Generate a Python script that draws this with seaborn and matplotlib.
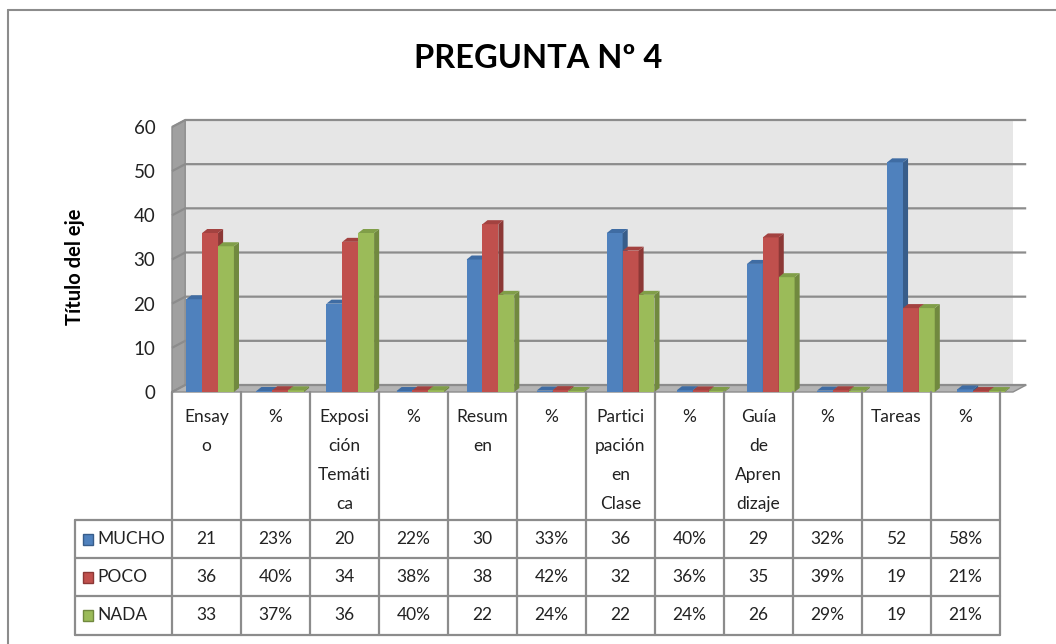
import numpy as np
import pandas as pd
import matplotlib
matplotlib.use('Agg')
import matplotlib.pyplot as plt
import seaborn as sns
from matplotlib.patches import Polygon, Rectangle
from matplotlib.lines import Line2D

# data
categories = ["Ensayo", "%", "Exposición Temática", "%", "Resumen", "%",
              "Participación en Clase", "%", "Guía de Aprendizaje", "%", "Tareas", "%"]
header_labels = ["Ensay\no", "%", "Exposi\nción\nTemáti\nca", "%", "Resum\nen", "%",
                 "Partici\npación\nen\nClase", "%", "Guía\nde\nApren\ndizaje", "%", "Tareas", "%"]
series = ["MUCHO", "POCO", "NADA"]
mucho = [21, 0.23, 20, 0.22, 30, 0.33, 36, 0.40, 29, 0.32, 52, 0.58]
poco = [36, 0.40, 34, 0.38, 38, 0.42, 32, 0.36, 35, 0.39, 19, 0.21]
nada = [33, 0.37, 36, 0.40, 22, 0.24, 22, 0.24, 26, 0.29, 19, 0.21]
yticks = [0, 10, 20, 30, 40, 50, 60]

front_colors = ["#4F81BD", "#C0504D", "#9BBB59"]
side_colors = ["#385D8A", "#8C3836", "#71893F"]
top_colors = ["#3F6CA3", "#A34240", "#809E48"]

sns.set_style("white")
plt.rcParams['font.family'] = ['Lato', 'DejaVu Sans']

W, H = 1056, 644
fig = plt.figure(figsize=(W / 100, H / 100), dpi=100)

def box(x0, y0, x1, y1):
    return [x0 / W, 1 - y1 / H, (x1 - x0) / W, (y1 - y0) / H]

df = pd.DataFrame({
    "col": np.tile(np.arange(len(categories)), 3),
    "serie": np.repeat(series, len(categories)),
    "valor": mucho + poco + nada,
})

ax = fig.add_axes(box(172, 120, 1013, 392))
n = len(categories)
px_x = 69.0
dx = 13 / px_x
px_y = 272 / (60 + 7 / 4.42)
dy = 7 / px_y
ax.set_xlim(-0.5, n - 0.5 + dx)
ax.set_ylim(0, 60 + dy)

# 3D-looking walls
ax.add_patch(Polygon([(-0.5 + dx, dy), (n - 0.5 + dx, dy), (n - 0.5 + dx, 60 + dy), (-0.5 + dx, 60 + dy)],
                     closed=True, fc="#E6E6E6", ec="none", zorder=0))
ax.add_patch(Polygon([(-0.5, 0), (-0.5, 60), (-0.5 + dx, 60 + dy), (-0.5 + dx, dy)],
                     closed=True, fc="#A0A0A0", ec="#8C8C8C", lw=1, zorder=0.5, clip_on=False))
ax.add_patch(Polygon([(-0.5, 0), (n - 0.5, 0), (n - 0.5 + dx, dy), (-0.5 + dx, dy)],
                     closed=True, fc="#B4B4B4", ec="#8C8C8C", lw=1, zorder=0.5, clip_on=False))
for v in yticks:
    ax.plot([-0.5, -0.5 + dx, n - 0.5 + dx], [v, v + dy, v + dy], color="#8C8C8C", lw=1.6,
            zorder=1, clip_on=False, solid_capstyle="butt")

sns.barplot(data=df, x="col", y="valor", hue="serie", hue_order=series,
            palette=front_colors, width=0.68, dodge=True, saturation=1,
            legend=False, ax=ax)

bdx = 5 / px_x
bdy = 4 / px_y
shift = 3 / px_x
for k, cont in enumerate(ax.containers):
    for bar in cont:
        bar.set_x(bar.get_x() + shift)
        x0, w, h = bar.get_x(), bar.get_width(), bar.get_height()
        bar.set_edgecolor("none")
        bar.set_zorder(3 + k)
        ax.add_patch(Polygon([(x0 + w, 0), (x0 + w, h), (x0 + w + bdx, h + bdy), (x0 + w + bdx, bdy)],
                             closed=True, fc=side_colors[k], ec="none", zorder=3 + k))
        ax.add_patch(Polygon([(x0, h), (x0 + w, h), (x0 + w + bdx, h + bdy), (x0 + bdx, h + bdy)],
                             closed=True, fc=top_colors[k], ec="none", zorder=3 + k))

ax.set_xticks([])
ax.set_yticks(yticks)
ax.set_yticklabels([str(v) for v in yticks], fontsize=13.5, color="#222222")
ax.tick_params(axis="y", length=0, pad=12)
ax.set_xlabel("")
ax.set_ylabel("")
for s in ax.spines.values():
    s.set_visible(False)
ax.patch.set_alpha(0)

# data table below the plot
tab = fig.add_axes(box(75, 392, 1000, 635))
left = -0.5 - (172 - 75) / px_x
tab.set_xlim(left, n - 0.5)
tab.set_ylim(243, 0)
tab.axis("off")
lc = "#8C8C8C"
rows_y = [128, 166, 204, 243]
for j in range(n + 1):
    tab.plot([j - 0.5, j - 0.5], [0, 243], color=lc, lw=1.6, clip_on=False)
tab.plot([left, left], [128, 243], color=lc, lw=1.6, clip_on=False)
for yy in rows_y:
    tab.plot([left, n - 0.5], [yy, yy], color=lc, lw=1.6, clip_on=False)
for j, lab in enumerate(header_labels):
    tab.text(j, 17, lab, ha="center", va="top", fontsize=12.5, linespacing=2.0, color="#222222")

values = [mucho, poco, nada]
for r, name in enumerate(series):
    yc = (rows_y[r] + rows_y[r + 1]) / 2
    tab.add_patch(Rectangle((left + 8 / px_x, yc - 5.5), 10 / px_x, 11,
                            fc=front_colors[r], ec=side_colors[r], lw=1, clip_on=False))
    tab.text(left + 22 / px_x, yc, name, ha="left", va="center", fontsize=12.5, color="#222222")
    for j, v in enumerate(values[r]):
        txt = f"{round(v * 100)}%" if categories[j] == "%" else f"{v:g}"
        tab.text(j, yc, txt, ha="center", va="center", fontsize=12.5, color="#222222")

# title and axis title
fig.text(538 / W, 1 - 58 / H, "PREGUNTA Nº 4", ha="center", va="center",
         fontsize=23.5, fontweight="bold", color="#000000")
fig.text(75 / W, 1 - 267 / H, "Título del eje", ha="center", va="center", rotation=90,
         fontsize=14.5, fontweight="bold", color="#000000")

# outer chart frame
fig.add_artist(Line2D([8 / W, 1.0], [1 - 10 / H, 1 - 10 / H], color="#8C8C8C", lw=1.5))
fig.add_artist(Line2D([8 / W, 8 / W], [0, 1 - 10 / H], color="#8C8C8C", lw=1.5))

fig.savefig("out.png", dpi=100)
